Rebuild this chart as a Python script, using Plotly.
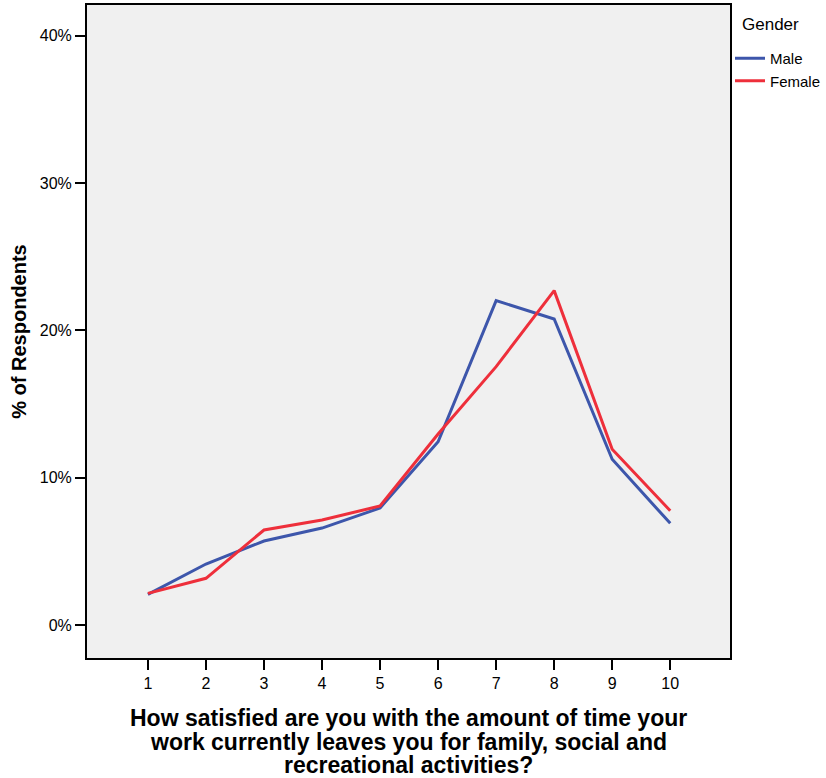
import plotly.graph_objects as go

satisfaction = [1, 2, 3, 4, 5, 6, 7, 8, 9, 10]
male_pct = [2.08, 4.14, 5.70, 6.58, 7.94, 12.44, 22.02, 20.77, 11.25, 6.90]
female_pct = [2.15, 3.17, 6.45, 7.13, 8.08, 12.97, 17.54, 22.70, 11.93, 7.76]
y_ticks = [0, 10, 20, 30, 40]
y_tick_labels = ["0%", "10%", "20%", "30%", "40%"]
x_title_lines = [
    "How satisfied are you with the amount of time your",
    "work currently leaves you for family, social and",
    "recreational activities?",
]

font_family = "Liberation Sans, Arial, sans-serif"

fig = go.Figure()
fig.add_trace(go.Scatter(
    x=satisfaction, y=male_pct, mode="lines", name="Male",
    line=dict(color="#3d56ab", width=3),
))
fig.add_trace(go.Scatter(
    x=satisfaction, y=female_pct, mode="lines", name="Female",
    line=dict(color="#ee2f3b", width=3),
))

fig.update_layout(
    width=826,
    height=778,
    margin=dict(l=87, r=96, t=5, b=120),
    paper_bgcolor="white",
    plot_bgcolor="#f0f0f0",
    font=dict(family=font_family, color="black", size=15),
    legend=dict(
        xref="container", yref="container",
        x=730 / 826, y=1 - 42 / 778, xanchor="left", yanchor="top",
        font=dict(size=15),
        bgcolor="rgba(0,0,0,0)",
        itemwidth=30,
        tracegroupgap=0,
    ),
)

# legend title
fig.add_annotation(
    text="Gender", xref="paper", yref="paper",
    x=1.015, y=(658 - 24) / 653, xanchor="left", yanchor="middle",
    showarrow=False, font=dict(size=17),
)

# x axis title, one annotation per line (SPSS-style tight line spacing)
for i, line in enumerate(x_title_lines):
    fig.add_annotation(
        text="<b>" + line + "</b>",
        xref="paper", yref="paper", x=0.5, y=-0.092 - i * 0.0362,
        xanchor="center", yanchor="middle", showarrow=False,
        font=dict(size=23),
    )

fig.update_xaxes(
    range=[-0.05, 11.03],
    tickvals=satisfaction,
    ticks="outside", ticklen=10, tickwidth=2, tickcolor="black",
    showline=True, linecolor="black", linewidth=2, mirror=True,
    showgrid=False, zeroline=False, automargin=False,
    tickfont=dict(size=16),
)
fig.update_yaxes(
    range=[-2.24, 42.09],
    tickvals=y_ticks, ticktext=y_tick_labels,
    ticks="outside", ticklen=10, tickwidth=2, tickcolor="black",
    showline=True, linecolor="black", linewidth=2, mirror=True,
    showgrid=False, zeroline=False, automargin=False,
    tickfont=dict(size=16),
    title=dict(text="<b>% of Respondents</b>", font=dict(size=20), standoff=8),
)

fig.write_html(
    "out.html",
    config={"displayModeBar": False},
    post_script="document.body.style.margin='0';",
)
